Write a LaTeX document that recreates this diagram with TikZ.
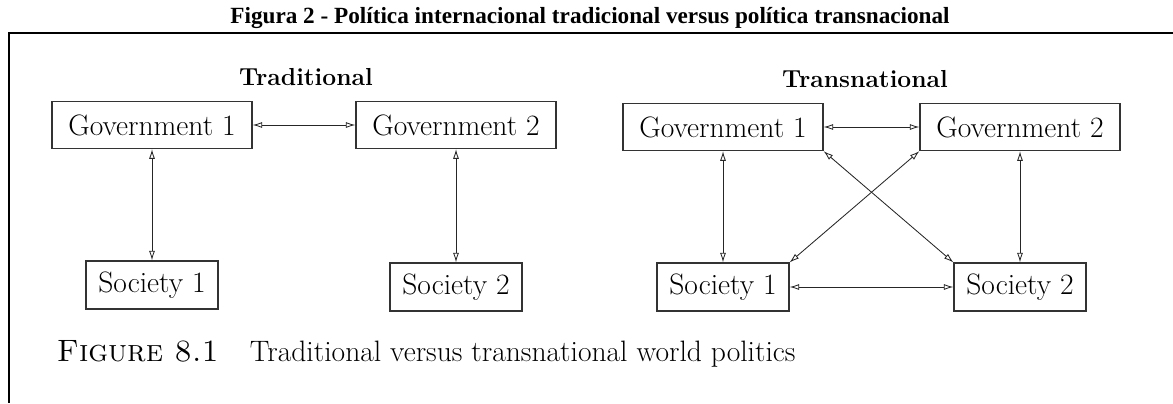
\documentclass[tikz,border=0pt]{standalone}
\usepackage{fontspec}
\newfontfamily\titlefont{Liberation Serif}
\usetikzlibrary{arrows.meta}

\begin{document}
\begin{tikzpicture}[
    x=0.025cm, y=-0.025cm,
    % boxes for the actors
    gov/.style={draw=black!80, line width=0.8pt, minimum width=5cm, minimum height=1.18cm, inner sep=0pt, font=\fontsize{21}{24}\selectfont},
    soc/.style={gov, minimum width=3.3cm, minimum height=1.2cm},
    head/.style={font=\fontsize{17.5}{20}\selectfont\bfseries, anchor=base},
    % two-way interaction lines
    link/.style={draw=black!85, line width=0.6pt, {Latex[open,length=2.4mm,width=1.5mm]}-{Latex[open,length=2.4mm,width=1.5mm]}},
    frame/.style={line width=1pt}
]

\useasboundingbox (0,0) rectangle (1173,403);

% Title and frame
\node[font=\titlefont\bfseries\fontsize{16.5}{19}\selectfont, anchor=base] (title) at (590,23) {Figura 2 - Política internacional tradicional versus política transnacional};
\draw[frame] (1173,33) -- (9,33) -- (9,403);

% ===============================
% Traditional
% ===============================
\node[head] (tradhead) at (306,85) {Traditional};
\node[gov] (g1) at (152,125) {Government 1};
\node[gov] (g2) at (456,125) {Government 2};
\node[soc] (s1) at (152,285) {Society 1};
\node[soc] (s2) at (456,287) {Society 2};

\draw[link] (g1) -- (g2);
\draw[link] (g1) -- (s1);
\draw[link] (g2) -- (s2);

% ===============================
% Transnational
% ===============================
\node[head] (transhead) at (865,87) {Transnational};
\node[gov] (rg1) at (723,127) {Government 1};
\node[gov] (rg2) at (1020,127) {Government 2};
\node[soc] (rs1) at (723,287) {Society 1};
\node[soc] (rs2) at (1020,287) {Society 2};

\draw[link] (rg1) -- (rg2);
\draw[link] (rs1) -- (rs2);
\draw[link] (rg1) -- (rs1);
\draw[link] (rg2) -- (rs2);
% cross links
\draw[link] (rg1.south east) -- (rs2.north west);
\draw[link] (rg2.south west) -- (rs1.north east);

% Caption
\node[anchor=base west, font=\fontsize{22}{26}\selectfont] (figno) at (52,361) {\textsc{Figure 8.1}};
\node[anchor=base west, font=\fontsize{21}{24}\selectfont] (figcap) at (245,361) {Traditional versus transnational world politics};

\end{tikzpicture}
\end{document}
